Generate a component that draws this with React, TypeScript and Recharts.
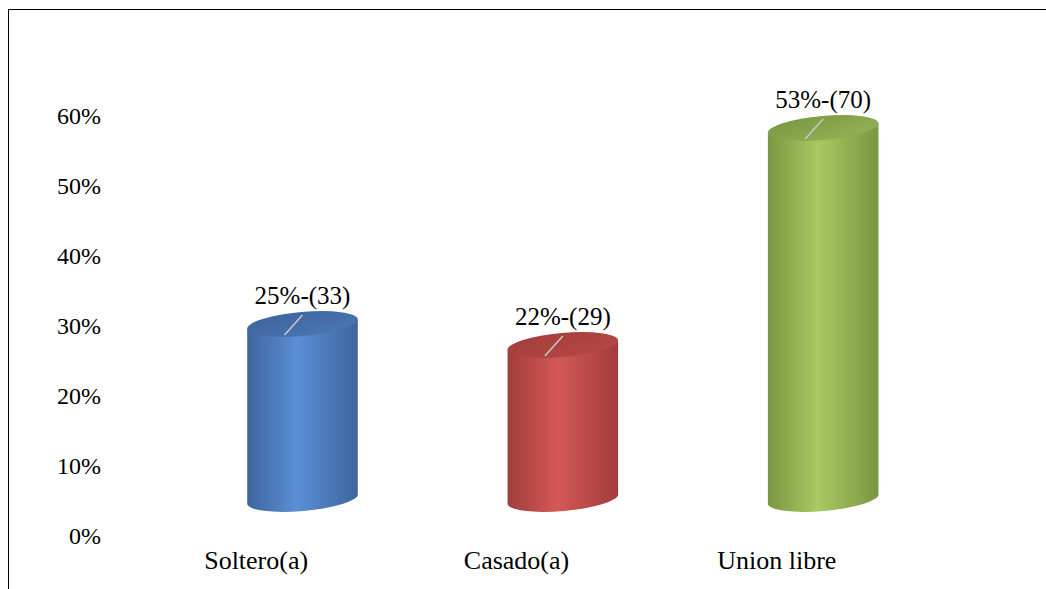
import { Bar, BarChart, Cell, LabelList, XAxis, YAxis } from "recharts";

const categories = ["Soltero(a)", "Casado(a)", "Union libre"];
const percents = [25, 22, 53];
const counts = [33, 29, 70];
const yTicks = [0, 10, 20, 30, 40, 50, 60];

const chartData = categories.map((name, i) => ({
  name,
  value: percents[i],
  count: counts[i],
}));

// depth offset of the 3D cylinders relative to the category axis
const DX = 46;
const DY = -36;
const RY = 12;
const TILT = 5;

const palettes = [
  { id: "cylBlue", edge: "#3d659d", mid: "#5b8fd6", top: "#4a77b4" },
  { id: "cylRed", edge: "#a13d3b", mid: "#d35856", top: "#b84846" },
  { id: "cylGreen", edge: "#7a9641", mid: "#a9c963", top: "#95b455" },
];

const FONT = "'Liberation Serif', 'Times New Roman', serif";

function Cylinder(props: any) {
  const { x, y, width, height, index } = props;
  const p = palettes[index % palettes.length];
  const rx = width / 2;
  const cx = x + rx + DX;
  const ty = y + DY;
  const by = y + height + DY;
  const t = (TILT * Math.PI) / 180;
  const ox = rx * Math.cos(t);
  const oy = rx * Math.sin(t);
  const body = `M ${cx - ox} ${ty + oy} L ${cx - ox} ${by + oy} A ${rx} ${RY} ${-TILT} 0 0 ${cx + ox} ${by - oy} L ${cx + ox} ${ty - oy} Z`;
  return (
    <g>
      <path d={body} fill={`url(#${p.id})`} />
      <ellipse
        cx={cx}
        cy={ty}
        rx={rx}
        ry={RY}
        fill={`url(#${p.id}Top)`}
        transform={`rotate(${-TILT} ${cx} ${ty})`}
      />
    </g>
  );
}

function CylLabel(props: any) {
  const { x, y, width, index } = props;
  const cx = x + width / 2 + DX;
  const ty = y + DY;
  return (
    <g>
      <line x1={cx} y1={ty - 9} x2={cx - 18} y2={ty + 11} stroke="#c9c9c9" strokeWidth={1.5} />
      <text
        x={cx}
        y={ty - 20}
        textAnchor="middle"
        style={{ fontFamily: FONT, fontSize: 25, fill: "#000" }}
      >
        {`${percents[index]}%-(${counts[index]})`}
      </text>
    </g>
  );
}

export default function App() {
  return (
    <div style={{ position: "relative", width: 1046, height: 589, background: "#fff" }}>
      <style>{"body{margin:0}"}</style>
      <div
        style={{
          position: "absolute",
          left: 8,
          top: 9,
          right: 0,
          bottom: 0,
          borderTop: "1.5px solid #000",
          borderLeft: "1.5px solid #000",
        }}
      />
      <BarChart
        width={1046}
        height={589}
        data={chartData}
        margin={{ top: 115, right: 139, bottom: 0, left: 0 }}
        barSize={111}
        style={{ position: "absolute", left: 0, top: 0 }}
      >
        <defs>
          {palettes.map((p) => (
            <linearGradient key={p.id} id={p.id} x1="0" y1="0" x2="1" y2="0">
              <stop offset="0%" stopColor={p.edge} />
              <stop offset="45%" stopColor={p.mid} />
              <stop offset="100%" stopColor={p.edge} />
            </linearGradient>
          ))}
          {palettes.map((p) => (
            <linearGradient key={p.id + "Top"} id={p.id + "Top"} x1="0" y1="0" x2="1" y2="1">
              <stop offset="0%" stopColor={p.edge} />
              <stop offset="100%" stopColor={p.top} />
            </linearGradient>
          ))}
        </defs>
        <XAxis
          dataKey="name"
          axisLine={false}
          tickLine={false}
          tickSize={0}
          tickMargin={16}
          height={54}
          tick={{ fontFamily: FONT, fontSize: 26, fill: "#000" }}
        />
        <YAxis
          domain={[0, 60]}
          ticks={yTicks}
          width={126}
          axisLine={false}
          tickLine={false}
          tickSize={0}
          tickMargin={25}
          tickFormatter={(v: number) => `${v}%`}
          tick={{ fontFamily: FONT, fontSize: 24, fill: "#000" }}
        />
        <Bar dataKey="value" shape={<Cylinder />} isAnimationActive={false}>
          {chartData.map((d, i) => (
            <Cell key={d.name} fill={palettes[i].mid} />
          ))}
          <LabelList dataKey="value" content={<CylLabel />} />
        </Bar>
      </BarChart>
    </div>
  );
}
